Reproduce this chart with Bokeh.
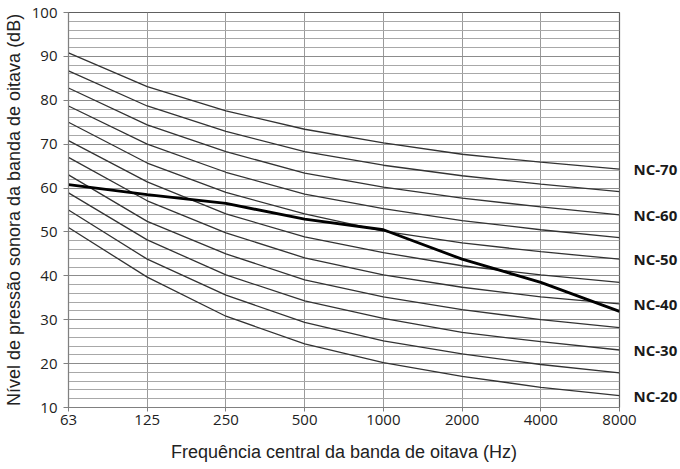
from bokeh.plotting import figure
from bokeh.models import Range1d, FixedTicker, SingleIntervalTicker, LinearAxis
from bokeh.embed import file_html
from bokeh.resources import INLINE

freqs = ["63", "125", "250", "500", "1000", "2000", "4000", "8000"]

nc_names = ["NC-20", "NC-25", "NC-30", "NC-35", "NC-40", "NC-45",
            "NC-50", "NC-55", "NC-60", "NC-65", "NC-70"]
nc20 = [51.0, 39.7, 30.8, 24.5, 20.2, 17.1, 14.6, 12.7]
nc25 = [55.0, 43.8, 35.6, 29.4, 25.2, 22.2, 19.8, 17.9]
nc30 = [58.9, 48.2, 40.2, 34.3, 30.3, 27.1, 25.0, 23.1]
nc35 = [63.0, 52.4, 45.0, 39.1, 35.2, 32.3, 30.0, 28.2]
nc40 = [67.0, 57.1, 49.8, 44.1, 40.2, 37.4, 35.2, 33.6]
nc45 = [70.8, 61.4, 54.1, 48.9, 45.3, 42.3, 40.2, 38.5]
nc50 = [75.0, 65.7, 59.0, 54.1, 50.2, 47.5, 45.5, 43.8]
nc55 = [78.7, 70.0, 63.6, 58.6, 55.3, 52.6, 50.5, 48.7]
nc60 = [82.8, 74.4, 68.3, 63.4, 60.2, 57.7, 55.7, 53.9]
nc65 = [86.7, 78.7, 72.9, 68.3, 65.2, 62.8, 60.9, 59.2]
nc70 = [90.8, 83.1, 77.6, 73.4, 70.3, 67.7, 65.9, 64.3]
nc_curves = [nc20, nc25, nc30, nc35, nc40, nc45, nc50, nc55, nc60, nc65, nc70]

measured = [60.8, 58.5, 56.5, 52.9, 50.5, 43.8, 38.5, 31.9]

labelled = ["NC-20", "NC-30", "NC-40", "NC-50", "NC-60", "NC-70"]

xs = list(range(len(freqs)))

p = figure(frame_width=551, frame_height=395,
           min_border_left=67, min_border_right=62,
           min_border_top=12, min_border_bottom=62,
           x_range=Range1d(0, len(freqs) - 1), y_range=Range1d(10, 100),
           output_backend="svg", toolbar_location=None,
           background_fill_color="white", border_fill_color="white")

p.outline_line_color = "#606060"
p.outline_line_width = 1.2

# axes
p.xaxis.ticker = FixedTicker(ticks=xs)
p.xaxis.major_label_overrides = {i: f for i, f in zip(xs, freqs)}
p.yaxis.ticker = SingleIntervalTicker(interval=10, num_minor_ticks=5)

for ax in (p.xaxis[0], p.yaxis[0]):
    ax.axis_line_color = "#808080"
    ax.major_tick_line_color = "#808080"
    ax.minor_tick_line_color = None
    ax.major_tick_in = 0
    ax.major_label_text_font = "Open Sans"
    ax.major_label_text_font_size = "15px"
    ax.major_label_text_color = "#222222"
    ax.axis_label_text_font = "Liberation Sans"
    ax.axis_label_text_font_size = "18px"
    ax.axis_label_text_font_style = "normal"
    ax.axis_label_text_color = "#222222"

p.xaxis.major_tick_out = 4
p.xaxis.major_label_standoff = 3
p.xaxis.axis_label = "Frequência central da banda de oitava (Hz)"
p.xaxis.axis_label_standoff = 14

p.yaxis.major_tick_out = 5
p.yaxis.major_label_standoff = 6
p.yaxis.axis_label = "Nível de pressão sonora da banda de oitava (dB)"
p.yaxis.axis_label_standoff = 5

# grid
p.xgrid.grid_line_color = "#9a9a9a"
p.xgrid.grid_line_width = 1
p.ygrid.grid_line_color = "#8c8c8c"
p.ygrid.minor_grid_line_color = "#a8a8a8"
p.ygrid.minor_grid_line_width = 1

# NC curves
for vals in nc_curves:
    p.line(xs, vals, line_color="#333333", line_width=1.3)

# measured spectrum
p.line(xs, measured, line_color="#000000", line_width=2.8)

# curve labels on the right, via an axis placed at the curve end values
lab_ticks = [vals[-1] for name, vals in zip(nc_names, nc_curves) if name in labelled]
lab_text = [name for name in nc_names if name in labelled]
rax = LinearAxis(ticker=FixedTicker(ticks=lab_ticks))
rax.major_label_overrides = {t: s for t, s in zip(lab_ticks, lab_text)}
rax.axis_line_color = None
rax.major_tick_line_color = None
rax.minor_tick_line_color = None
rax.major_tick_out = 0
rax.major_tick_in = 0
rax.major_label_standoff = 14
rax.major_label_text_font = "Open Sans"
rax.major_label_text_font_style = "bold"
rax.major_label_text_font_size = "15px"
rax.major_label_text_color = "#1a1a1a"
p.add_layout(rax, "right")

open("out.html", "w").write(file_html(p, INLINE))
